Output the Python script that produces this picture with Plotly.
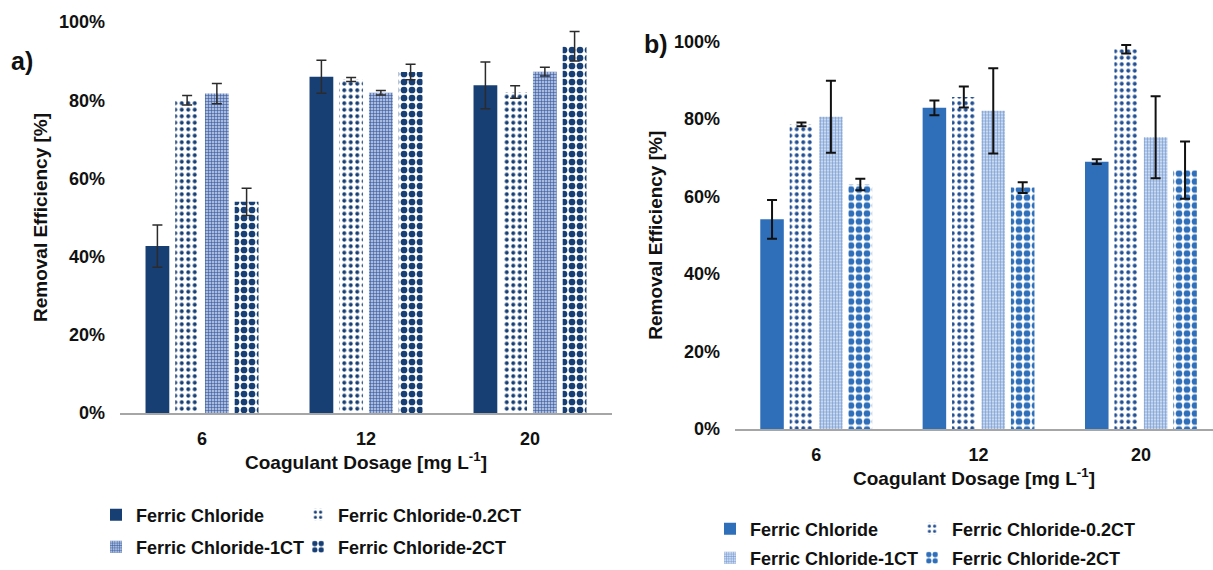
import plotly.graph_objects as go

# ---- data -------------------------------------------------------------
dosages = ["6", "12", "20"]
series_names = [
    "Ferric Chloride",
    "Ferric Chloride-0.2CT",
    "Ferric Chloride-1CT",
    "Ferric Chloride-2CT",
]
y_ticks = [0, 20, 40, 60, 80, 100]
y_tick_labels = ["0%", "20%", "40%", "60%", "80%", "100%"]

# panel a) removal efficiency [%] and standard deviation
a_fc = [42.7, 86.0, 83.8]
a_fc_err = [5.4, 4.2, 6.0]
a_02ct = [80.0, 85.3, 82.1]
a_02ct_err = [1.2, 0.5, 1.6]
a_1ct = [81.7, 81.9, 87.3]
a_1ct_err = [2.6, 0.6, 1.1]
a_2ct = [54.0, 87.2, 93.8]
a_2ct_err = [3.5, 2.0, 3.8]

# panel b) removal efficiency [%] and standard deviation
b_fc = [54.1, 82.9, 69.0]
b_fc_err = [5.0, 1.9, 0.6]
b_02ct = [78.6, 85.7, 98.0]
b_02ct_err = [0.5, 2.7, 1.1]
b_1ct = [80.6, 82.1, 75.3]
b_1ct_err = [9.3, 11.0, 10.6]
b_2ct = [63.1, 62.3, 66.8]
b_2ct_err = [1.5, 1.4, 7.4]

# ---- figure geometry (pixels) ------------------------------------------
W, H = 1213, 570
FONT = "Liberation Sans, Arial, sans-serif"


def fx(px):
    return px / W


def fy(py):
    return 1 - py / H


NAVY = "#183F74"
BLUE = "#2F6FBA"


def styles(main, dot_fg, grid_fg, grid_bg, chk_fg):
    return [
        dict(color=main, pattern=dict(shape="")),
        dict(color="white", pattern=dict(shape=".", fgcolor=dot_fg, bgcolor="white",
                                         size=6.5, solidity=0.3, fillmode="replace")),
        dict(color=grid_bg, pattern=dict(shape="+", fgcolor=grid_fg, bgcolor=grid_bg,
                                         size=3, solidity=0.35, fillmode="replace")),
        dict(color="white", pattern=dict(shape=".", fgcolor=chk_fg, bgcolor="white",
                                         size=8, solidity=0.55, fillmode="replace")),
    ]


panel_a = dict(
    values=[a_fc, a_02ct, a_1ct, a_2ct],
    errors=[a_fc_err, a_02ct_err, a_1ct_err, a_2ct_err],
    styles=styles(NAVY, NAVY, "#35589A", "#A9BCE0", NAVY),
    err_color="#2B2B2B", err_thick=1.5,
    xaxis="x", yaxis="y",
    legend_rows=(515, 547), legend_cols=(136, 338),
)
panel_b = dict(
    values=[b_fc, b_02ct, b_1ct, b_2ct],
    errors=[b_fc_err, b_02ct_err, b_1ct_err, b_2ct_err],
    styles=styles(BLUE, "#234F93", "#6F95D0", "#CAD9EF", BLUE),
    err_color="#111111", err_thick=2,
    xaxis="x2", yaxis="y2",
    legend_rows=(529, 558), legend_cols=(750, 952),
)

fig = go.Figure()
layout_legends = {}
legend_idx = 0
for panel in (panel_a, panel_b):
    for i, name in enumerate(series_names):
        legend_idx += 1
        key = "legend" if legend_idx == 1 else f"legend{legend_idx}"
        st = panel["styles"][i]
        fig.add_trace(go.Bar(
            x=dosages,
            y=panel["values"][i],
            name=name,
            showlegend=True,
            marker=dict(color=st["color"], pattern=st["pattern"], line=dict(width=0)),
            error_y=dict(type="data", array=panel["errors"][i], visible=True,
                         color=panel["err_color"], thickness=panel["err_thick"], width=5),
            xaxis=panel["xaxis"], yaxis=panel["yaxis"],
            legend=key,
        ))
        row = panel["legend_rows"][i // 2]
        col = panel["legend_cols"][i % 2]
        layout_legends[key] = dict(
            x=fx(col - 40), y=fy(row), xanchor="left", yanchor="middle",
            bgcolor="rgba(0,0,0,0)", borderwidth=0, visible=True,
            font=dict(family=FONT, size=18, color="#111111", weight="bold"),
        )

tick_font = dict(family=FONT, size=18, color="#111111", weight="bold")
title_font = dict(family=FONT, size=19, color="#111111", weight="bold")


def xaxis_cfg(domain, rng, anchor):
    return dict(
        domain=domain, range=rng, type="category", anchor=anchor,
        showline=True, linecolor="#A6A6A6", linewidth=2,
        ticks="", showgrid=False, zeroline=False,
        tickfont=tick_font, ticklabelstandoff=8,
        title=dict(text="Coagulant Dosage [mg L<sup>-1</sup>]", font=title_font, standoff=8),
    )


def yaxis_cfg(domain, anchor):
    return dict(
        domain=domain, range=[0, 100], anchor=anchor,
        tickmode="array", tickvals=y_ticks, ticktext=y_tick_labels,
        showline=False, showgrid=False, zeroline=False, ticks="",
        tickfont=tick_font, ticklabelstandoff=14,
        title=dict(text="Removal Efficiency [%]", font=title_font, standoff=6),
    )


label_font = dict(family=FONT, size=25, color="#111111", weight="bold")

fig.update_layout(
    width=W, height=H,
    margin=dict(l=0, r=0, t=0, b=0, autoexpand=False),
    paper_bgcolor="white", plot_bgcolor="white",
    showlegend=True,
    barmode="group", bargap=0.275, bargroupgap=0.2,
    xaxis=xaxis_cfg([fx(120), fx(612)], [-0.5, 2.5], "y"),
    yaxis=yaxis_cfg([fy(413), fy(22)], "x"),
    xaxis2=xaxis_cfg([fx(735), 1.0], [-0.5, 2.444], "y2"),
    yaxis2=yaxis_cfg([fy(429), fy(41.5)], "x2"),
    annotations=[
        dict(text="a)", x=fx(22), y=fy(61), xref="paper", yref="paper",
             xanchor="center", yanchor="middle", showarrow=False, font=label_font),
        dict(text="b)", x=fx(656), y=fy(44), xref="paper", yref="paper",
             xanchor="center", yanchor="middle", showarrow=False, font=label_font),
    ],
    **layout_legends,
)

fig.write_html("out.html")
